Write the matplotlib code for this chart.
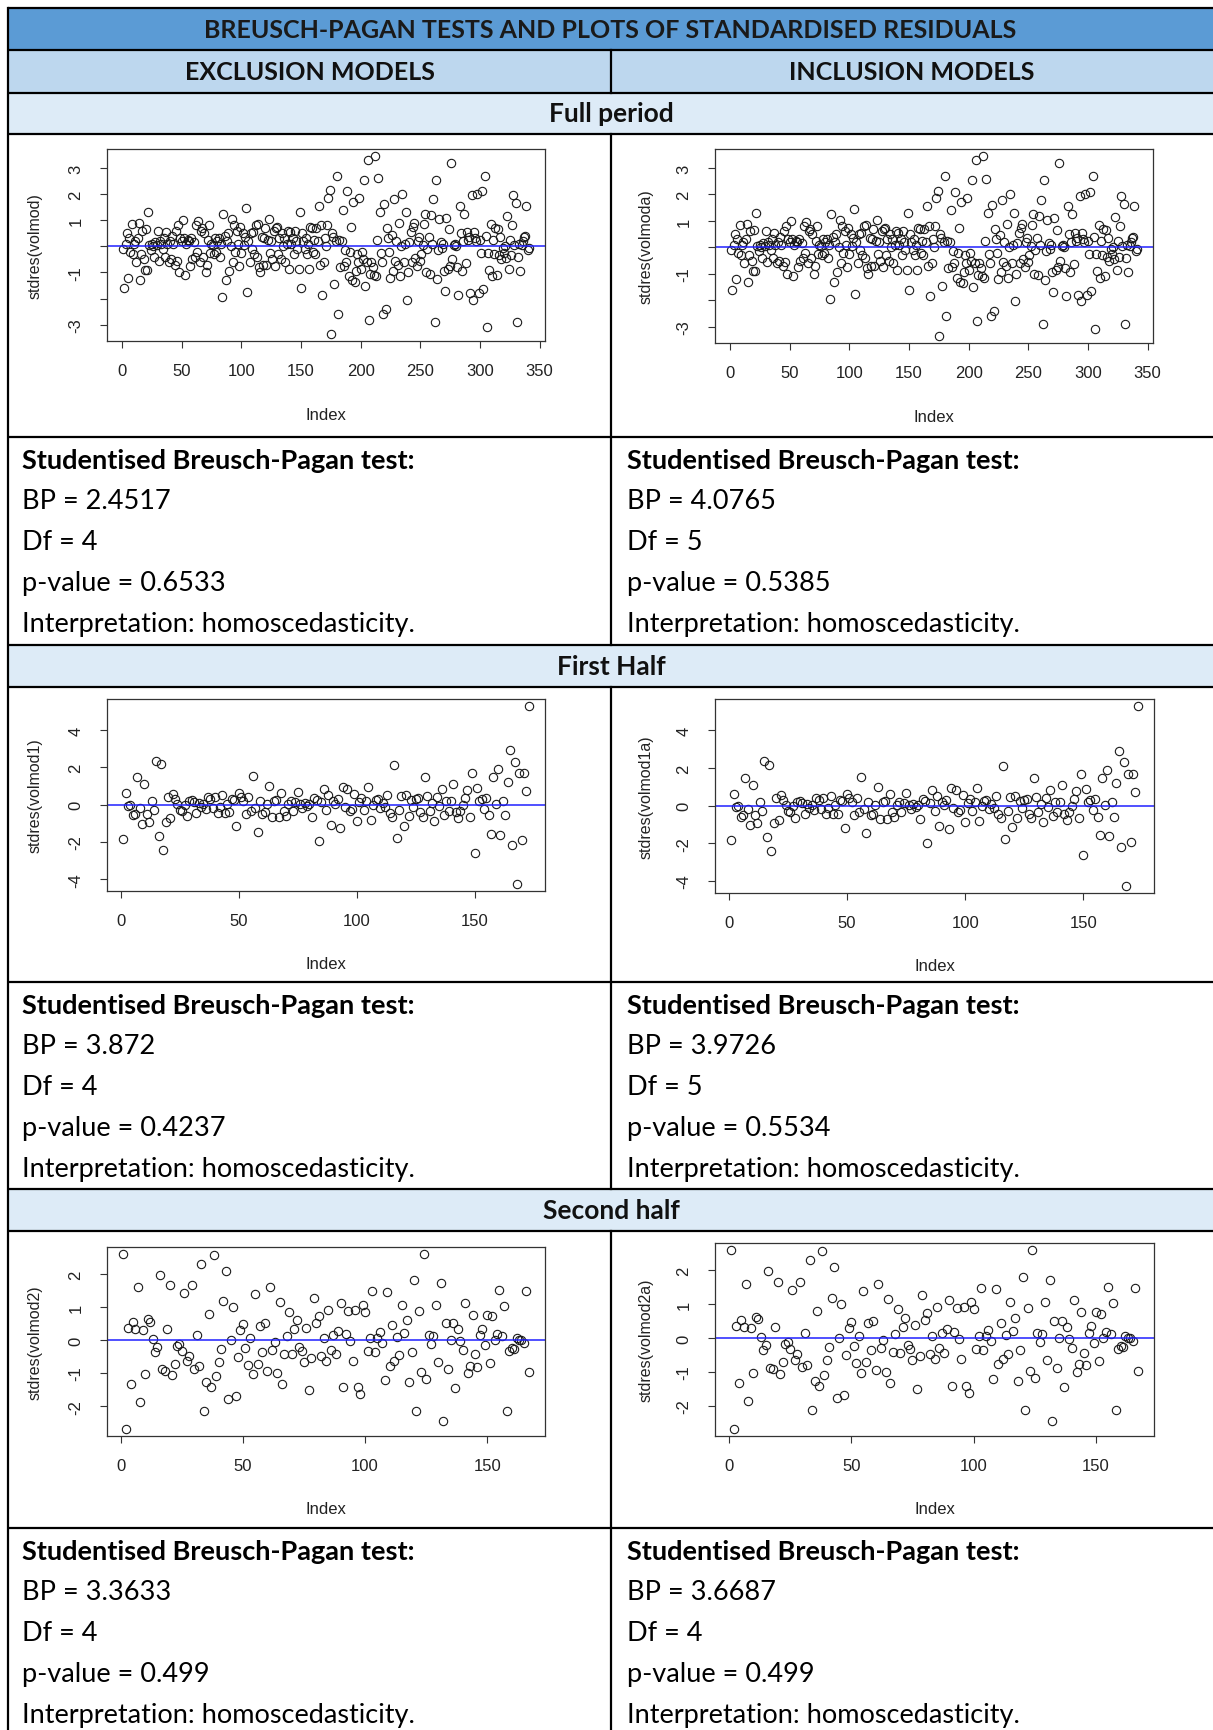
import matplotlib
matplotlib.use("Agg")
import matplotlib.pyplot as plt
import numpy as np

W, H = 1213, 1731

# standardised residuals
stdres_volmod = [
    -0.1, -1.6, 0.1, 0.5, -1.2, 0.3, -0.2, 0.85, -0.3, 0.1,
    0.2, -0.6, 0.3, 0.9, -1.3, -0.3, 0.6, -0.5, -0.9, 0.65,
    -0.9, 1.3, 0.05, -0.15, 0.1, 0.0, -0.4, 0.15, 0.05, 0.6,
    -0.55, 0.2, 0.1, -0.1, 0.3, -0.4, 0.55, 0.1, -0.6, 0.2,
    -0.5, 0.4, 0.1, -0.7, 0.6, -0.55, 0.8, -1.0, 0.3, 0.2,
    1.0, 0.3, -1.1, 0.1, 0.25, 0.2, -0.75, 0.3, -0.5, 0.15,
    -0.4, 0.8, -0.2, 0.95, -0.6, 0.6, 0.7, -0.4, 0.5, -1.0,
    -0.7, 0.25, 0.8, -0.25, 0.1, 0.05, -0.3, 0.3, -0.2, 0.2,
    0.3, -0.4, 0.1, -1.95, 1.25, 0.4, -1.3, 0.2, 0.5, -0.95,
    0.0, 1.05, -0.6, 0.8, -0.2, 0.6, 0.1, -0.75, 0.75, -0.25,
    0.5, 0.05, 0.35, 1.45, -1.75, 0.2, -0.6, 0.5, -0.1, 0.55,
    -0.3, 0.8, -0.4, 0.85, -0.8, -1.0, 0.35, -0.7, 0.3, 0.7,
    -0.7, 0.25, 1.05, -0.25, 0.2, -0.5, 0.6, -0.75, 0.7, 0.75,
    -0.3, 0.3, -0.5, 0.5, 0.0, 0.3, -0.6, 0.1, 0.6, -0.85,
    0.55, 0.1, 0.3, -0.3, 0.6, 0.2, -0.1, -0.85, 1.3, -1.6,
    0.5, 0.2, -0.1, 0.3, -0.3, 0.1, -0.85, 0.75, 0.7, -0.2,
    0.25, -0.3, 0.7, 0.2, 1.55, -0.7, 0.8, -1.85, -0.6, 0.3,
    0.0, 0.8, 1.85, 2.15, -3.35, 0.5, 0.35, -1.45, 0.2, 2.7,
    -2.6, 0.25, -0.8, 0.2, 1.4, -0.75, -0.15, -0.6, 2.1, -1.15,
    -0.2, 0.75, -1.3, 1.7, -1.35, -0.95, -0.3, -0.6, 1.85, -0.85,
    -0.2, -0.5, 2.55, -1.5, -0.6, 3.3, -2.8, -1.05, -0.6, -0.8,
    -1.1, 3.45, -1.15, 0.25, 2.6, 1.3, -0.25, -0.6, -2.6, 1.6,
    -2.4, 0.7, 0.3, -0.2, -1.2, 0.45, -0.95, 1.8, -0.55, 0.2,
    -0.7, 0.9, -1.15, 0.0, 2.0, -0.6, 0.1, 1.3, -2.05, -1.0,
    0.15, 0.55, -0.6, 0.75, 0.9, -0.45, -0.75, 0.2, 0.35, -0.55,
    -0.3, 0.05, 0.85, 1.25, -1.0, -0.1, 0.35, -1.05, 1.2, 0.1,
    1.8, -2.9, 2.55, -1.25, -0.15, 1.05, 0.15, -0.05, 0.1, -0.95,
    -1.7, 1.1, -0.85, 0.65, -0.75, 3.2, -0.5, 0.05, 0.1, 0.0,
    -0.8, -1.85, 1.55, 0.5, -0.95, 0.2, 1.25, -0.65, 0.55, 0.25,
    0.35, -1.8, 1.95, -2.05, 0.55, 0.3, 0.2, 2.0, -1.8, 0.25,
    -0.25, 2.1, -1.65, 2.7, 0.4, -3.1, -0.25, -0.9, 0.85, -1.15,
    0.25, -0.3, 0.7, -1.1, 0.65, -0.35, 0.35, -0.5, -0.05, -0.25,
    0.0, -0.45, 1.15, -0.85, 0.25, -0.35, 0.8, 1.95, 0.05, 1.65,
    -2.9, -0.4, 0.1, -0.95, 0.05, 0.2, 0.35, 0.4, 1.55, -0.15, -0.05,
]

stdres_volmod1 = [
    -1.84, 0.63, -0.07, 0.0, -0.57, -0.5, 1.48, -0.18, -1.04, 1.09,
    -0.48, -0.93, 0.18, -0.29, 2.36, -1.66, 2.18, -2.41, -0.93, 0.41,
    -0.73, 0.55, 0.29, 0.05, -0.29, -0.32, -0.02, -0.63, 0.21, 0.27,
    0.14, -0.46, 0.09, -0.14, 0.05, -0.25, 0.41, 0.32, -0.18, 0.41,
    -0.43, -0.11, 0.5, -0.45, 0.05, -0.41, 0.32, 0.27, -1.16, 0.63,
    0.41, 0.21, -0.48, 0.41, -0.34, 1.54, -0.18, -1.46, 0.18, -0.48,
    -0.41, 0.02, 1.02, -0.68, 0.21, 0.25, -0.68, 0.63, -0.34, -0.61,
    0.02, 0.21, -0.34, 0.14, 0.68, 0.05, -0.18, 0.09, -0.05, 0.02,
    -0.68, 0.36, 0.25, -1.95, 0.14, 0.86, -0.29, 0.5, -1.09, 0.21,
    0.02, 0.32, -1.25, 0.96, -0.11, 0.86, -0.34, -0.25, 0.57, -0.88,
    0.14, 0.38, -0.29, 0.21, 0.93, -0.8, -0.02, 0.25, 0.32, -0.18,
    0.09, -0.13, 0.5, -0.43, -0.64, 2.13, -1.79, -0.29, 0.46, -1.14,
    0.5, -0.63, 0.27, -0.11, 0.32, 0.36, -0.41, -0.64, 1.48, 0.46,
    -0.34, 0.11, -0.88, 0.41, -0.07, 0.86, -0.54, 0.21, -0.34, 0.18,
    1.09, -0.41, -0.73, -0.34, -0.02, 0.36, 0.8, -0.64, 1.71, -2.59,
    0.89, 0.21, 0.3, -0.21, 0.36, -0.57, -1.55, 1.48, 0.05, 1.89,
    -1.61, 0.21, -0.57, 1.2, 2.91, -2.18, 2.3, -4.25, 1.71, -1.91,
    1.71, 0.73, 5.29,
]

stdres_volmod2 = [
    2.6, -2.69, 0.36, -1.32, 0.53, 0.32, 1.61, -1.86, 0.3, -1.03,
    0.63, 0.55, 0.03, -0.36, -0.2, 1.97, -0.89, -0.93, 0.33, 1.67,
    -1.06, -0.72, -0.17, -0.13, -0.32, 1.41, -0.64, -0.47, 1.65, -0.87,
    0.15, -0.79, 2.31, -2.14, -1.27, 0.79, -1.42, 2.57, -1.09, -0.65,
    -0.27, 1.19, 2.09, -1.79, 0.01, 1.0, -1.69, -0.5, 0.3, 0.47,
    -0.24, -0.75, 0.07, -1.03, 1.38, -0.72, 0.43, -0.36, 0.5, -0.94,
    1.61, -0.31, -0.07, -1.0, 1.16, -1.34, -0.42, 0.11, 0.85, -0.43,
    0.33, 0.59, -0.22, -0.34, -0.65, 0.37, -1.5, -0.53, 1.26, 0.52,
    0.73, -0.47, 0.05, -0.62, 0.91, -0.31, 0.16, -0.43, 0.28, 1.13,
    -1.41, 0.18, 0.88, -0.02, -0.63, 0.91, -1.41, -1.62, 1.07, 0.85,
    -0.33, 0.05, 1.48, -0.37, 0.07, 0.25, -0.08, -1.22, 1.45, -0.78,
    0.44, -0.62, 0.08, -0.46, 1.06, 0.22, 0.59, -1.28, -0.36, 1.8,
    -2.14, 0.88, -0.97, 2.6, -1.18, 0.16, -0.11, 0.11, 1.07, -0.65,
    1.73, -2.46, 0.5, -0.88, 0.01, 0.5, -1.44, 0.33, -0.03, -0.3,
    1.12, -1.01, -0.78, 0.76, -0.43, -0.81, 0.14, 0.34, -0.14, 0.76,
    -0.69, 0.72, 0.01, 0.19, 1.51, 0.12, 1.03, -2.14, -0.33, -0.23,
    -0.27, 0.05, -0.01, 0.01, -0.08, 1.48, -0.97,
]

# the inclusion models give residual plots that look the same as the exclusion ones
stdres_volmoda = list(stdres_volmod)
stdres_volmod1a = list(stdres_volmod1)
stdres_volmod2a = list(stdres_volmod2)

title = "BREUSCH-PAGAN TESTS AND PLOTS OF STANDARDISED RESIDUALS"
columns = ["EXCLUSION MODELS", "INCLUSION MODELS"]
periods = ["Full period", "First Half", "Second half"]

ylabels = [["stdres(volmod)", "stdres(volmoda)"],
           ["stdres(volmod1)", "stdres(volmod1a)"],
           ["stdres(volmod2)", "stdres(volmod2a)"]]
series = [[stdres_volmod, stdres_volmoda],
          [stdres_volmod1, stdres_volmod1a],
          [stdres_volmod2, stdres_volmod2a]]
xticks = [[0, 50, 100, 150, 200, 250, 300, 350], [0, 50, 100, 150], [0, 50, 100, 150]]
yticks = [[-3, -2, -1, 0, 1, 2, 3], [-4, -2, 0, 2, 4], [-2, -1, 0, 1, 2]]
yticklabels = [["-3", "", "-1", "", "1", "2", "3"],
               ["-4", "-2", "0", "2", "4"],
               ["-2", "-1", "0", "1", "2"]]

bp_values = [["2.4517", "4.0765"], ["3.872", "3.9726"], ["3.3633", "3.6687"]]
df_values = [["4", "5"], ["4", "5"], ["4", "4"]]
p_values = [["0.6533", "0.5385"], ["0.4237", "0.5534"], ["0.499", "0.499"]]
interpretation = "homoscedasticity."

fig = plt.figure(figsize=(W / 100, H / 100), dpi=100)
bg = fig.add_axes([0, 0, 1, 1])
bg.set_xlim(0, W)
bg.set_ylim(H, 0)
bg.axis("off")

TFONT = ["Lato", "DejaVu Sans"]
RFONT = ["Liberation Sans", "DejaVu Sans"]

# table layout (pixels)
left, mid, right = 8, 611, 1213
title_row = (9, 51)
col_row = (51, 94)
period_rows = [(94, 135), (646, 688), (1190, 1232)]
plot_rows = [(135, 438), (688, 983), (1232, 1529)]
text_rows = [(438, 646), (983, 1190), (1529, 1731)]

bg.add_patch(plt.Rectangle((left, title_row[0]), right - left, title_row[1] - title_row[0],
                           color="#5B9BD5", lw=0))
bg.add_patch(plt.Rectangle((left, col_row[0]), right - left, col_row[1] - col_row[0],
                           color="#BDD7EE", lw=0))
for r in period_rows:
    bg.add_patch(plt.Rectangle((left, r[0]), right - left, r[1] - r[0], color="#DDEBF7", lw=0))

hlines = [9, 51, 94, 135, 438, 646, 688, 983, 1190, 1232, 1529]
for y in hlines:
    bg.plot([left, right], [y, y], color="black", lw=1.6, solid_capstyle="butt")
bg.plot([left, left], [9, H], color="black", lw=1.6)
for a, b in [col_row, (135, 646), (688, 1190), (1232, H)]:
    bg.plot([mid, mid], [a, b], color="black", lw=1.6)

bg.text((left + right) / 2, 30, title, ha="center", va="center", fontsize=18,
        fontweight="bold", family=TFONT, color="#1a1a1a")
bg.text((left + mid) / 2, 72.5, columns[0], ha="center", va="center", fontsize=18,
        fontweight="bold", family=TFONT, color="#111111")
bg.text((mid + right) / 2, 72.5, columns[1], ha="center", va="center", fontsize=18,
        fontweight="bold", family=TFONT, color="#111111")
for name, r in zip(periods, period_rows):
    bg.text(mid, (r[0] + r[1]) / 2, name, ha="center", va="center", fontsize=19,
            fontweight="bold", family=TFONT, color="#111111")

# text cells
for i, r in enumerate(text_rows):
    for j, x0 in enumerate([22, 627]):
        y0 = r[0] + 23
        lines = ["Studentised Breusch-Pagan test:",
                 "BP = " + bp_values[i][j],
                 "Df = " + df_values[i][j],
                 "p-value = " + p_values[i][j],
                 "Interpretation: " + interpretation]
        for k, line in enumerate(lines):
            bg.text(x0, y0 + k * 41, line, ha="left", va="center", fontsize=19.5,
                    fontweight="bold" if k == 0 else "normal", family=TFONT, color="black")

# residual plots, R style
axes_px = [
    [(107, 150, 545, 342), (715, 150, 1153, 344)],
    [(107, 700, 545, 892), (715, 700, 1154, 894)],
    [(107, 1248, 545, 1437), (715, 1244, 1154, 1437)],
]
label_gap = [72, 69]

for i in range(3):
    for j in range(2):
        x0, y0, x1, y1 = axes_px[i][j]
        ax = fig.add_axes([x0 / W, 1 - y1 / H, (x1 - x0) / W, (y1 - y0) / H])
        vals = series[i][j]
        idx = np.arange(1, len(vals) + 1)
        ax.plot(idx, vals, "o", mfc="none", mec="#1a1a1a", ms=6, mew=0.8)
        ax.margins(x=0.04, y=0.04)
        ax.axhline(0, color="#2020ff", lw=1.1)
        ax.set_xticks(xticks[i])
        ax.set_yticks(yticks[i])
        ax.set_yticklabels(yticklabels[i])
        for s in ax.spines.values():
            s.set_color("#333333")
            s.set_linewidth(0.9)
        ax.tick_params(direction="out", length=5, width=0.8, color="#333333",
                       labelsize=12, labelcolor="#222222")
        ax.tick_params(axis="x", pad=11)
        ax.tick_params(axis="y", pad=12, labelrotation=90)
        for t in ax.get_yticklabels():
            t.set_va("center")
        for t in ax.get_xticklabels() + ax.get_yticklabels():
            t.set_family(RFONT)
        hpx = y1 - y0
        wpx = x1 - x0
        ax.set_xlabel("Index", fontsize=12, family=RFONT, color="#222222", va="center")
        ax.xaxis.set_label_coords(0.5, -73 / hpx)
        ax.set_ylabel(ylabels[i][j], fontsize=11.5, family=RFONT, color="#222222", va="center")
        ax.yaxis.set_label_coords(-label_gap[j] / wpx, 0.5)

fig.savefig("out.png", dpi=100, facecolor="white")
